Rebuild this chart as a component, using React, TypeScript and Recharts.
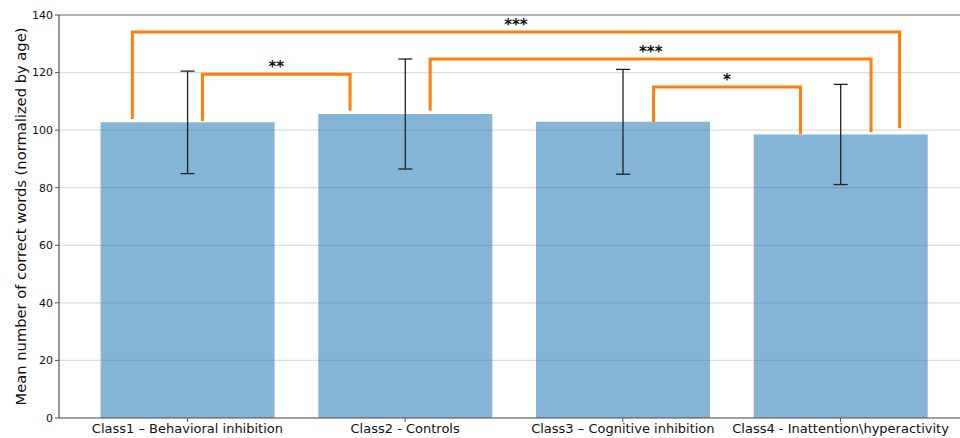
import React from "react";
import {
  Bar,
  CartesianGrid,
  ComposedChart,
  ErrorBar,
  Line,
  ReferenceLine,
  Scatter,
  XAxis,
  YAxis,
} from "recharts";

const categories = [
  "Class1 – Behavioral inhibition",
  "Class2 - Controls",
  "Class3 – Cognitive inhibition",
  "Class4 - Inattention\\hyperactivity",
];
const means = [102.7, 105.6, 102.9, 98.5];
const errors = [17.8, 19.1, 18.2, 17.4];
const yTicks = [0, 20, 40, 60, 80, 100, 120, 140];

// significance brackets: x in category units, y in words
const bracketBehavInatt = [
  { x: -0.253, y: 103.9 },
  { x: -0.253, y: 134.1 },
  { x: 3.271, y: 134.1 },
  { x: 3.271, y: 100.7 },
];
const bracketBehavCtrl = [
  { x: 0.069, y: 103.2 },
  { x: 0.069, y: 119.4 },
  { x: 0.747, y: 119.4 },
  { x: 0.747, y: 106.7 },
];
const bracketCtrlInatt = [
  { x: 1.115, y: 106.7 },
  { x: 1.115, y: 124.7 },
  { x: 3.14, y: 124.7 },
  { x: 3.14, y: 99.3 },
];
const bracketCogInatt = [
  { x: 2.141, y: 102.8 },
  { x: 2.141, y: 115 },
  { x: 2.816, y: 115 },
  { x: 2.816, y: 98.6 },
];
const sigLabels = [
  { x: 1.509, y: 134.1, text: "***" },
  { x: 0.408, y: 119.4, text: "**" },
  { x: 2.128, y: 124.7, text: "***" },
  { x: 2.478, y: 115, text: "*" },
];

const barData = categories.map((name, i) => ({
  x: i,
  name,
  mean: means[i],
  err: errors[i],
}));

const brackets = [bracketBehavInatt, bracketBehavCtrl, bracketCtrlInatt, bracketCogInatt];

const X_DOMAIN: [number, number] = [-0.59, 3.59];
const FONT = "'DejaVu Sans', sans-serif";

const StarLabel = (props: any) => {
  const { cx, cy, payload } = props;
  return (
    <text
      x={cx}
      y={cy - 2}
      textAnchor="middle"
      fontFamily={FONT}
      fontSize={15}
      fontWeight="bold"
      fill="#111"
    >
      {payload.text}
    </text>
  );
};

export default function App() {
  return (
    <div
      style={{
        position: "absolute",
        left: 0,
        top: 0,
        width: 960,
        height: 438,
        overflow: "hidden",
        background: "#fff",
        fontFamily: FONT,
      }}
    >
      <ComposedChart
        width={970}
        height={438}
        data={barData}
        margin={{ top: 15, right: 1, bottom: 0, left: 0 }}
      >
        <CartesianGrid
          xAxisId="cat"
          horizontal
          vertical={false}
          stroke="#dcdcdc"
          strokeWidth={1.2}
        />
        <XAxis
          xAxisId="cat"
          type="number"
          dataKey="x"
          domain={X_DOMAIN}
          allowDataOverflow
          ticks={[0, 1, 2, 3]}
          interval={0}
          tickFormatter={(v: number) => categories[v] ?? ""}
          height={20}
          tickSize={4}
          tickMargin={2}
          tick={{ fontSize: 13, fill: "#111", fontFamily: FONT }}
          tickLine={{ stroke: "#555" }}
          axisLine={{ stroke: "#555", strokeWidth: 1.2 }}
        />
        {/* same scale, used by the brackets and star labels */}
        <XAxis
          xAxisId="pts"
          type="number"
          dataKey="x"
          domain={X_DOMAIN}
          allowDataOverflow
          hide
        />
        <YAxis
          type="number"
          domain={[0, 140]}
          ticks={yTicks}
          width={59}
          tickSize={4}
          tickMargin={2}
          tick={{ fontSize: 11, fill: "#111", fontFamily: FONT }}
          tickLine={{ stroke: "#555" }}
          axisLine={{ stroke: "#555", strokeWidth: 1.2 }}
          label={{
            value: "Mean number of correct words (normalized by age)",
            angle: -90,
            position: "insideLeft",
            offset: 21,
            style: { textAnchor: "middle", fontSize: 14.7, fill: "#111", fontFamily: FONT },
          }}
        />
        <ReferenceLine xAxisId="cat" y={140} stroke="#777" strokeWidth={1.2} />
        <Bar
          xAxisId="cat"
          dataKey="mean"
          barSize={174}
          fill="#1f77b4"
          fillOpacity={0.55}
          isAnimationActive={false}
        >
          <ErrorBar
            dataKey="err"
            width={7}
            stroke="#222"
            strokeWidth={1.3}
            direction="y"
            isAnimationActive={false}
          />
        </Bar>
        {brackets.map((pts, i) => (
          <Line
            key={i}
            xAxisId="pts"
            data={pts}
            dataKey="y"
            type="linear"
            stroke="#ff7f0e"
            strokeWidth={3}
            strokeLinejoin="miter"
            dot={false}
            activeDot={false}
            isAnimationActive={false}
          />
        ))}
        <Scatter
          xAxisId="pts"
          data={sigLabels}
          dataKey="y"
          shape={StarLabel}
          isAnimationActive={false}
        />
      </ComposedChart>
    </div>
  );
}
